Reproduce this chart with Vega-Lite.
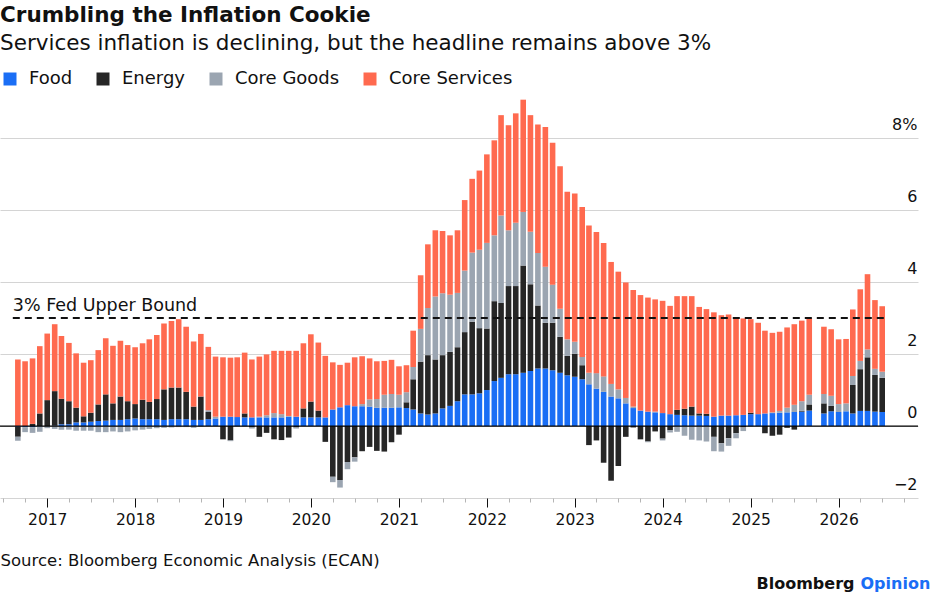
{
  "$schema": "https://vega.github.io/schema/vega-lite/v6.json",
  "width": 918,
  "height": 403,
  "autosize": "none",
  "padding": {"left": 0, "top": 95, "right": 17, "bottom": 98},
  "background": "white",
  "config": {"font": "DejaVu Sans", "view": {"stroke": null}},
  "title": {
    "text": "Crumbling the Inflation Cookie",
    "subtitle": "Services inflation is declining, but the headline remains above 3%",
    "anchor": "start",
    "frame": "group",
    "offset": 16,
    "font": "DejaVu Sans",
    "fontSize": 21.5,
    "fontWeight": "bold",
    "color": "#111111",
    "subtitleFont": "DejaVu Sans",
    "subtitleFontSize": 21.5,
    "subtitleColor": "#111111",
    "subtitlePadding": 6
  },
  "datasets": {
    "cpi": [
      {"month": "2016-09", "Food": -0.02, "Energy": -0.28, "Core Goods": -0.11, "Core Services": 1.85},
      {"month": "2016-10", "Food": -0.03, "Energy": 0.0, "Core Goods": -0.14, "Core Services": 1.80},
      {"month": "2016-11", "Food": -0.03, "Energy": 0.06, "Core Goods": -0.16, "Core Services": 1.82},
      {"month": "2016-12", "Food": -0.01, "Energy": 0.35, "Core Goods": -0.15, "Core Services": 1.87},
      {"month": "2017-01", "Food": 0.0, "Energy": 0.72, "Core Goods": -0.06, "Core Services": 1.85},
      {"month": "2017-02", "Food": 0.01, "Energy": 0.96, "Core Goods": -0.08, "Core Services": 1.86},
      {"month": "2017-03", "Food": 0.05, "Energy": 0.71, "Core Goods": -0.10, "Core Services": 1.74},
      {"month": "2017-04", "Food": 0.05, "Energy": 0.64, "Core Goods": -0.10, "Core Services": 1.62},
      {"month": "2017-05", "Food": 0.10, "Energy": 0.41, "Core Goods": -0.13, "Core Services": 1.51},
      {"month": "2017-06", "Food": 0.10, "Energy": 0.17, "Core Goods": -0.13, "Core Services": 1.49},
      {"month": "2017-07", "Food": 0.12, "Energy": 0.25, "Core Goods": -0.13, "Core Services": 1.46},
      {"month": "2017-08", "Food": 0.14, "Energy": 0.46, "Core Goods": -0.17, "Core Services": 1.51},
      {"month": "2017-09", "Food": 0.15, "Energy": 0.73, "Core Goods": -0.17, "Core Services": 1.56},
      {"month": "2017-10", "Food": 0.17, "Energy": 0.46, "Core Goods": -0.15, "Core Services": 1.60},
      {"month": "2017-11", "Food": 0.17, "Energy": 0.65, "Core Goods": -0.17, "Core Services": 1.55},
      {"month": "2017-12", "Food": 0.19, "Energy": 0.50, "Core Goods": -0.15, "Core Services": 1.56},
      {"month": "2018-01", "Food": 0.21, "Energy": 0.40, "Core Goods": -0.12, "Core Services": 1.58},
      {"month": "2018-02", "Food": 0.19, "Energy": 0.54, "Core Goods": -0.10, "Core Services": 1.57},
      {"month": "2018-03", "Food": 0.19, "Energy": 0.48, "Core Goods": -0.08, "Core Services": 1.74},
      {"month": "2018-04", "Food": 0.19, "Energy": 0.56, "Core Goods": -0.06, "Core Services": 1.78},
      {"month": "2018-05", "Food": 0.17, "Energy": 0.85, "Core Goods": -0.05, "Core Services": 1.83},
      {"month": "2018-06", "Food": 0.19, "Energy": 0.88, "Core Goods": -0.04, "Core Services": 1.85},
      {"month": "2018-07", "Food": 0.19, "Energy": 0.88, "Core Goods": -0.03, "Core Services": 1.90},
      {"month": "2018-08", "Food": 0.19, "Energy": 0.76, "Core Goods": -0.03, "Core Services": 1.81},
      {"month": "2018-09", "Food": 0.17, "Energy": 0.37, "Core Goods": -0.05, "Core Services": 1.81},
      {"month": "2018-10", "Food": 0.17, "Energy": 0.65, "Core Goods": -0.02, "Core Services": 1.74},
      {"month": "2018-11", "Food": 0.19, "Energy": 0.20, "Core Goods": 0.05, "Core Services": 1.76},
      {"month": "2018-12", "Food": 0.21, "Energy": 0.0, "Core Goods": 0.05, "Core Services": 1.67},
      {"month": "2019-01", "Food": 0.26, "Energy": -0.37, "Core Goods": 0.0, "Core Services": 1.65},
      {"month": "2019-02", "Food": 0.26, "Energy": -0.40, "Core Goods": -0.02, "Core Services": 1.64},
      {"month": "2019-03", "Food": 0.25, "Energy": 0.0, "Core Goods": -0.02, "Core Services": 1.66},
      {"month": "2019-04", "Food": 0.24, "Energy": 0.11, "Core Goods": -0.02, "Core Services": 1.69},
      {"month": "2019-05", "Food": 0.24, "Energy": -0.04, "Core Goods": -0.03, "Core Services": 1.61},
      {"month": "2019-06", "Food": 0.24, "Energy": -0.30, "Core Goods": 0.02, "Core Services": 1.67},
      {"month": "2019-07", "Food": 0.24, "Energy": -0.19, "Core Goods": 0.06, "Core Services": 1.69},
      {"month": "2019-08", "Food": 0.24, "Energy": -0.37, "Core Goods": 0.12, "Core Services": 1.73},
      {"month": "2019-09", "Food": 0.24, "Energy": -0.39, "Core Goods": 0.09, "Core Services": 1.76},
      {"month": "2019-10", "Food": 0.26, "Energy": -0.32, "Core Goods": 0.02, "Core Services": 1.81},
      {"month": "2019-11", "Food": 0.26, "Energy": -0.04, "Core Goods": -0.03, "Core Services": 1.83},
      {"month": "2019-12", "Food": 0.24, "Energy": 0.25, "Core Goods": 0.0, "Core Services": 1.81},
      {"month": "2020-01", "Food": 0.24, "Energy": 0.44, "Core Goods": 0.0, "Core Services": 1.87},
      {"month": "2020-02", "Food": 0.24, "Energy": 0.19, "Core Goods": 0.0, "Core Services": 1.89},
      {"month": "2020-03", "Food": 0.24, "Energy": -0.44, "Core Goods": 0.0, "Core Services": 1.71},
      {"month": "2020-04", "Food": 0.46, "Energy": -1.41, "Core Goods": -0.15, "Core Services": 1.31},
      {"month": "2020-05", "Food": 0.52, "Energy": -1.50, "Core Goods": -0.21, "Core Services": 1.18},
      {"month": "2020-06", "Food": 0.58, "Energy": -1.00, "Core Goods": -0.20, "Core Services": 1.18},
      {"month": "2020-07", "Food": 0.55, "Energy": -0.87, "Core Goods": -0.12, "Core Services": 1.36},
      {"month": "2020-08", "Food": 0.55, "Energy": -0.70, "Core Goods": 0.06, "Core Services": 1.33},
      {"month": "2020-09", "Food": 0.54, "Energy": -0.58, "Core Goods": 0.20, "Core Services": 1.14},
      {"month": "2020-10", "Food": 0.51, "Energy": -0.69, "Core Goods": 0.24, "Core Services": 1.05},
      {"month": "2020-11", "Food": 0.51, "Energy": -0.71, "Core Goods": 0.36, "Core Services": 0.94},
      {"month": "2020-12", "Food": 0.51, "Energy": -0.45, "Core Goods": 0.38, "Core Services": 0.95},
      {"month": "2021-01", "Food": 0.52, "Energy": -0.24, "Core Goods": 0.35, "Core Services": 0.79},
      {"month": "2021-02", "Food": 0.50, "Energy": 0.16, "Core Goods": 0.28, "Core Services": 0.75},
      {"month": "2021-03", "Food": 0.46, "Energy": 0.84, "Core Goods": 0.34, "Core Services": 1.01},
      {"month": "2021-04", "Food": 0.35, "Energy": 1.44, "Core Goods": 0.91, "Core Services": 1.49},
      {"month": "2021-05", "Food": 0.32, "Energy": 1.65, "Core Goods": 1.31, "Core Services": 1.77},
      {"month": "2021-06", "Food": 0.35, "Energy": 1.50, "Core Goods": 1.75, "Core Services": 1.84},
      {"month": "2021-07", "Food": 0.49, "Energy": 1.48, "Core Goods": 1.72, "Core Services": 1.73},
      {"month": "2021-08", "Food": 0.56, "Energy": 1.50, "Core Goods": 1.59, "Core Services": 1.65},
      {"month": "2021-09", "Food": 0.69, "Energy": 1.50, "Core Goods": 1.51, "Core Services": 1.74},
      {"month": "2021-10", "Food": 0.88, "Energy": 1.73, "Core Goods": 1.71, "Core Services": 1.96},
      {"month": "2021-11", "Food": 0.88, "Energy": 2.02, "Core Goods": 1.92, "Core Services": 2.05},
      {"month": "2021-12", "Food": 0.91, "Energy": 1.81, "Core Goods": 2.18, "Core Services": 2.20},
      {"month": "2022-01", "Food": 1.00, "Energy": 1.71, "Core Goods": 2.38, "Core Services": 2.46},
      {"month": "2022-02", "Food": 1.25, "Energy": 2.22, "Core Goods": 1.83, "Core Services": 2.64},
      {"month": "2022-03", "Food": 1.34, "Energy": 2.08, "Core Goods": 2.43, "Core Services": 2.79},
      {"month": "2022-04", "Food": 1.44, "Energy": 2.45, "Core Goods": 1.55, "Core Services": 2.92},
      {"month": "2022-05", "Food": 1.44, "Energy": 2.45, "Core Goods": 1.76, "Core Services": 3.04},
      {"month": "2022-06", "Food": 1.48, "Energy": 2.98, "Core Goods": 1.49, "Core Services": 3.12},
      {"month": "2022-07", "Food": 1.53, "Energy": 2.41, "Core Goods": 1.46, "Core Services": 3.24},
      {"month": "2022-08", "Food": 1.60, "Energy": 1.75, "Core Goods": 1.46, "Core Services": 3.57},
      {"month": "2022-09", "Food": 1.60, "Energy": 1.27, "Core Goods": 1.56, "Core Services": 3.88},
      {"month": "2022-10", "Food": 1.55, "Energy": 1.32, "Core Goods": 1.06, "Core Services": 3.94},
      {"month": "2022-11", "Food": 1.48, "Energy": 1.00, "Core Goods": 0.78, "Core Services": 3.96},
      {"month": "2022-12", "Food": 1.41, "Energy": 0.54, "Core Goods": 0.46, "Core Services": 4.10},
      {"month": "2023-01", "Food": 1.37, "Energy": 0.64, "Core Goods": 0.33, "Core Services": 4.12},
      {"month": "2023-02", "Food": 1.30, "Energy": 0.39, "Core Goods": 0.23, "Core Services": 4.17},
      {"month": "2023-03", "Food": 1.16, "Energy": -0.53, "Core Goods": 0.32, "Core Services": 4.09},
      {"month": "2023-04", "Food": 1.04, "Energy": -0.40, "Core Goods": 0.43, "Core Services": 3.92},
      {"month": "2023-05", "Food": 0.95, "Energy": -1.02, "Core Goods": 0.43, "Core Services": 3.71},
      {"month": "2023-06", "Food": 0.82, "Energy": -1.52, "Core Goods": 0.35, "Core Services": 3.39},
      {"month": "2023-07", "Food": 0.77, "Energy": -1.11, "Core Goods": 0.25, "Core Services": 3.27},
      {"month": "2023-08", "Food": 0.63, "Energy": -0.30, "Core Goods": 0.15, "Core Services": 3.21},
      {"month": "2023-09", "Food": 0.50, "Energy": -0.04, "Core Goods": 0.04, "Core Services": 3.24},
      {"month": "2023-10", "Food": 0.43, "Energy": -0.37, "Core Goods": 0.0, "Core Services": 3.21},
      {"month": "2023-11", "Food": 0.40, "Energy": -0.43, "Core Goods": -0.02, "Core Services": 3.17},
      {"month": "2023-12", "Food": 0.38, "Energy": -0.15, "Core Goods": 0.02, "Core Services": 3.12},
      {"month": "2024-01", "Food": 0.36, "Energy": -0.35, "Core Goods": -0.05, "Core Services": 3.12},
      {"month": "2024-02", "Food": 0.33, "Energy": -0.12, "Core Goods": -0.06, "Core Services": 3.01},
      {"month": "2024-03", "Food": 0.31, "Energy": 0.14, "Core Goods": -0.16, "Core Services": 3.16},
      {"month": "2024-04", "Food": 0.30, "Energy": 0.18, "Core Goods": -0.27, "Core Services": 3.13},
      {"month": "2024-05", "Food": 0.29, "Energy": 0.25, "Core Goods": -0.38, "Core Services": 3.07},
      {"month": "2024-06", "Food": 0.29, "Energy": 0.06, "Core Goods": -0.40, "Core Services": 2.96},
      {"month": "2024-07", "Food": 0.28, "Energy": 0.06, "Core Goods": -0.43, "Core Services": 2.91},
      {"month": "2024-08", "Food": 0.26, "Energy": -0.30, "Core Goods": -0.40, "Core Services": 2.90},
      {"month": "2024-09", "Food": 0.29, "Energy": -0.48, "Core Goods": -0.23, "Core Services": 2.79},
      {"month": "2024-10", "Food": 0.29, "Energy": -0.34, "Core Goods": -0.21, "Core Services": 2.81},
      {"month": "2024-11", "Food": 0.30, "Energy": -0.20, "Core Goods": -0.14, "Core Services": 2.72},
      {"month": "2024-12", "Food": 0.31, "Energy": -0.04, "Core Goods": -0.10, "Core Services": 2.68},
      {"month": "2025-01", "Food": 0.33, "Energy": 0.04, "Core Goods": -0.02, "Core Services": 2.60},
      {"month": "2025-02", "Food": 0.33, "Energy": 0.0, "Core Goods": -0.01, "Core Services": 2.54},
      {"month": "2025-03", "Food": 0.35, "Energy": -0.20, "Core Goods": 0.0, "Core Services": 2.30},
      {"month": "2025-04", "Food": 0.36, "Energy": -0.27, "Core Goods": 0.02, "Core Services": 2.21},
      {"month": "2025-05", "Food": 0.37, "Energy": -0.24, "Core Goods": 0.05, "Core Services": 2.20},
      {"month": "2025-06", "Food": 0.38, "Energy": -0.05, "Core Goods": 0.13, "Core Services": 2.23},
      {"month": "2025-07", "Food": 0.39, "Energy": -0.10, "Core Goods": 0.20, "Core Services": 2.24},
      {"month": "2025-08", "Food": 0.40, "Energy": 0.02, "Core Goods": 0.27, "Core Services": 2.24},
      {"month": "2025-09", "Food": 0.43, "Energy": 0.17, "Core Goods": 0.27, "Core Services": 2.14},
      {"month": "2025-11", "Food": 0.35, "Energy": 0.28, "Core Goods": 0.26, "Core Services": 1.87},
      {"month": "2025-12", "Food": 0.41, "Energy": 0.15, "Core Goods": 0.28, "Core Services": 1.85},
      {"month": "2026-01", "Food": 0.39, "Energy": 0.0, "Core Goods": 0.22, "Core Services": 1.80},
      {"month": "2026-02", "Food": 0.41, "Energy": 0.0, "Core Goods": 0.22, "Core Services": 1.79},
      {"month": "2026-03", "Food": 0.35, "Energy": 0.79, "Core Goods": 0.25, "Core Services": 1.85},
      {"month": "2026-04", "Food": 0.42, "Energy": 1.16, "Core Goods": 0.23, "Core Services": 1.99},
      {"month": "2026-05", "Food": 0.42, "Energy": 1.49, "Core Goods": 0.22, "Core Services": 2.09},
      {"month": "2026-06", "Food": 0.40, "Energy": 1.02, "Core Goods": 0.17, "Core Services": 1.91},
      {"month": "2026-07", "Food": 0.39, "Energy": 0.95, "Core Goods": 0.17, "Core Services": 1.82}
    ]
  },
  "resolve": {"axis": {"y": "independent"}},
  "layer": [
    {
      "data": {"name": "cpi"},
      "transform": [
        {"fold": ["Food", "Energy", "Core Goods", "Core Services"], "as": ["component", "value"]},
        {
          "lookup": "component",
          "from": {
            "data": {"values": [
              {"component": "Food", "rank": 1},
              {"component": "Energy", "rank": 2},
              {"component": "Core Goods", "rank": 3},
              {"component": "Core Services", "rank": 4}
            ]},
            "key": "component",
            "fields": ["rank"]
          }
        }
      ],
      "mark": {"type": "bar", "size": 5.6},
      "encoding": {
        "x": {
          "field": "month",
          "type": "temporal",
          "scale": {
            "type": "utc",
            "domain": [
              {"year": 2016, "month": 7, "date": 9, "hours": 14, "utc": true},
              {"year": 2026, "month": 11, "date": 6, "utc": true}
            ]
          },
          "axis": {
            "tickCount": {"interval": "month", "step": 3},
            "labelExpr": "utcmonth(datum.value) == 0 ? utcFormat(datum.value, '%Y') : ''",
            "tickSize": {"condition": {"test": "utcmonth(datum.value) == 0", "value": 9}, "value": 4},
            "tickColor": {"condition": {"test": "utcmonth(datum.value) == 0", "value": "#111111"}, "value": "#b5b5b5"},
            "tickWidth": 1,
            "domain": false,
            "grid": false,
            "labelOverlap": false,
            "labelFlush": false,
            "labelPadding": 5,
            "labelFont": "DejaVu Sans",
            "labelFontSize": 15.5,
            "labelColor": "#111111",
            "title": "Source: Bloomberg Economic Analysis (ECAN)",
            "titleAnchor": "start",
            "titleAlign": "left",
            "titleBaseline": "alphabetic",
            "titleX": 0,
            "titleY": 67,
            "titleFont": "DejaVu Sans",
            "titleFontSize": 16.5,
            "titleFontWeight": "normal",
            "titleColor": "#111111"
          }
        },
        "y": {
          "field": "value",
          "type": "quantitative",
          "stack": "zero",
          "scale": {"domain": [-2, 9.2], "nice": false, "zero": false},
          "axis": {
            "orient": "right",
            "values": [-2, 0, 2, 4, 6, 8],
            "grid": true,
            "gridColor": "#d4d4d4",
            "gridWidth": 1,
            "domain": false,
            "ticks": false,
            "tickSize": 0,
            "labelAlign": "right",
            "labelBaseline": "alphabetic",
            "labelPadding": -1,
            "labelOffset": -9,
            "labelFont": "DejaVu Sans",
            "labelFontSize": 16,
            "labelColor": "#111111",
            "labelExpr": "datum.value == 8 ? '8%' : datum.label",
            "title": "Opinion",
            "titleAngle": 0,
            "titleAlign": "left",
            "titleBaseline": "alphabetic",
            "titleX": -58,
            "titleY": 493,
            "titleFont": "DejaVu Sans",
            "titleFontSize": 16,
            "titleFontWeight": "bold",
            "titleColor": "#1a6ef5"
          }
        },
        "color": {
          "field": "component",
          "type": "nominal",
          "scale": {
            "domain": ["Food", "Energy", "Core Goods", "Core Services"],
            "range": ["#1a6ef5", "#262626", "#9ba5b1", "#ff6a4f"]
          },
          "legend": {
            "title": null,
            "orient": "none",
            "direction": "horizontal",
            "legendX": 1,
            "legendY": -25,
            "symbolType": "square",
            "symbolSize": 169,
            "symbolStrokeWidth": 0,
            "symbolOpacity": 1,
            "labelFont": "DejaVu Sans",
            "labelFontSize": 18,
            "labelColor": "#111111",
            "labelOffset": 10,
            "columnPadding": 21,
            "padding": 0
          }
        },
        "order": {"field": "rank", "type": "quantitative"}
      }
    },
    {
      "data": {"values": [{}]},
      "mark": {"type": "rule", "color": "#111111", "strokeWidth": 2, "strokeDash": [7, 5]},
      "encoding": {
        "x": {"datum": {"year": 2016, "month": 8, "date": 11, "utc": true}, "type": "temporal"},
        "x2": {"datum": {"year": 2026, "month": 7, "date": 21, "utc": true}},
        "y": {
          "datum": 3,
          "type": "quantitative",
          "axis": {
            "orient": "left",
            "title": "Bloomberg",
            "labels": false,
            "ticks": false,
            "domain": false,
            "grid": false,
            "titleAngle": 0,
            "titleAlign": "left",
            "titleBaseline": "alphabetic",
            "titleX": 756,
            "titleY": 493,
            "titleFont": "DejaVu Sans",
            "titleFontSize": 16,
            "titleFontWeight": "bold",
            "titleColor": "#111111"
          }
        }
      }
    },
    {
      "data": {"values": [{}]},
      "mark": {
        "type": "text",
        "text": "3% Fed Upper Bound",
        "align": "left",
        "baseline": "alphabetic",
        "dy": -7,
        "font": "DejaVu Sans",
        "fontSize": 17.5,
        "color": "#111111"
      },
      "encoding": {
        "x": {"datum": {"year": 2016, "month": 8, "date": 11, "utc": true}, "type": "temporal"},
        "y": {"datum": 3, "type": "quantitative", "axis": null}
      }
    },
    {
      "data": {"values": [{}]},
      "mark": {"type": "rule", "color": "#000000", "strokeWidth": 1.2},
      "encoding": {
        "y": {"datum": 0, "type": "quantitative", "axis": null}
      }
    }
  ]
}
